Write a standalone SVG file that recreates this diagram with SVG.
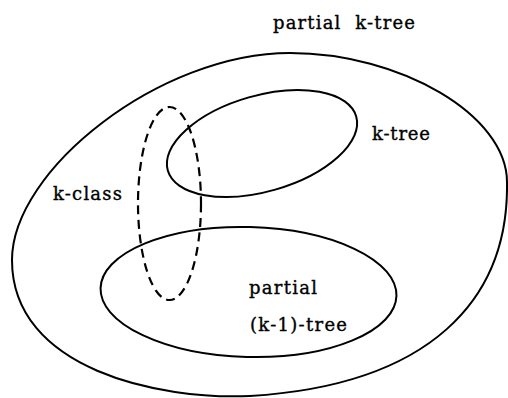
<svg xmlns="http://www.w3.org/2000/svg" width="508" height="398" viewBox="0 0 508 398">
<style>
.s{fill:none;stroke:#000;stroke-width:2}
.d{fill:none;stroke:#000;stroke-width:2.2;stroke-dasharray:9 5.5}
text{font-family:"DejaVu Serif","Liberation Serif",serif;font-size:18px;fill:#000;stroke:#000;stroke-width:0.35}
</style>
<rect width="508" height="398" fill="#fff"/>
<g id="partial-k-tree">
<path class="s" d="M290,53 C400,53 507,115 507,182 C509,300 430,385 250,396 C160,400 12,370 12,260 C12,170 160,53 290,53 Z"/>
<text x="273" y="29" xml:space="preserve" textLength="142">partial  k-tree</text>
</g>
<g id="k-tree">
<ellipse class="s" cx="262" cy="143.5" rx="98" ry="48" transform="rotate(-16 262 143.5)"/>
<text x="372" y="140" textLength="58">k-tree</text>
</g>
<g id="partial-k-1-tree">
<ellipse class="s" cx="248.5" cy="292" rx="148" ry="65" transform="rotate(1.5 248.5 292)"/>
<text x="249" y="294" textLength="68">partial</text>
<text x="250" y="331" textLength="97">(k-1)-tree</text>
</g>
<g id="k-class">
<ellipse class="d" cx="169.5" cy="203.5" rx="31.5" ry="96.5"/>
<text x="53" y="200" textLength="69">k-class</text>
</g>
<g id="connectors"></g>
</svg>
